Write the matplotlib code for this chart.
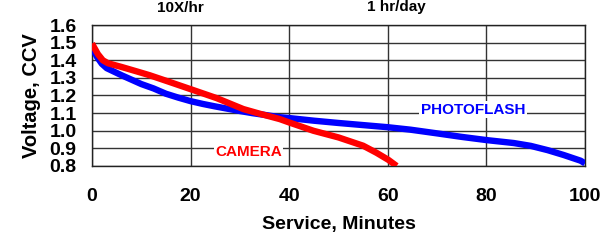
import matplotlib
matplotlib.use("Agg")
import matplotlib.pyplot as plt

plt.rcParams['font.family'] = ['Liberation Sans', 'DejaVu Sans']

# Data
photo_x = [0, 1, 2, 3, 4.5, 6, 8, 10, 12.5, 15, 17.5, 20, 22.5, 25, 27.5, 30, 32.5, 35, 38, 40,
           45, 50, 55, 60, 64.6, 70, 75, 80, 85.6, 89, 92.4, 95.7, 99.1, 100]
photo_y = [1.475, 1.42, 1.38, 1.355, 1.335, 1.315, 1.29, 1.265, 1.24, 1.21, 1.188, 1.168, 1.152,
           1.138, 1.125, 1.112, 1.10, 1.09, 1.077, 1.072, 1.057, 1.044, 1.032, 1.02, 1.006, 0.985,
           0.965, 0.947, 0.93, 0.914, 0.89, 0.862, 0.83, 0.815]

camera_x = [0, 1.2, 2.2, 3.25, 6, 9.3, 11.7, 15.4, 20, 25.3, 30.7, 34.1, 38.1, 40, 44.9, 50, 55,
            57.7, 60.1, 61.8]
camera_y = [1.495, 1.435, 1.40, 1.383, 1.362, 1.335, 1.315, 1.28, 1.236, 1.185, 1.123, 1.096,
            1.066, 1.047, 1.0, 0.962, 0.915, 0.875, 0.835, 0.80]

x_ticks = [0, 20, 40, 60, 80, 100]
y_ticks = [0.8, 0.9, 1.0, 1.1, 1.2, 1.3, 1.4, 1.5, 1.6]

fig = plt.figure(figsize=(6.09, 2.43), dpi=100)
ax = fig.add_axes([0.151, 0.317, 0.8096, 0.580])

ax.plot(photo_x, photo_y, color='#0000FF', lw=4.6, solid_capstyle='butt',
        solid_joinstyle='round', zorder=3)
ax.plot(camera_x, camera_y, color='#FF0000', lw=4.6, solid_capstyle='butt',
        solid_joinstyle='round', zorder=4)

ax.set_xlim(0, 100)
ax.set_ylim(0.8, 1.6)
ax.set_xticks(x_ticks)
ax.set_yticks(y_ticks)
ax.set_xticklabels([str(v) for v in x_ticks], fontsize=14, fontweight='bold')
ax.set_yticklabels([f"{v:.1f}" for v in y_ticks], fontsize=14, fontweight='bold')
ax.tick_params(axis='both', length=0)
ax.tick_params(axis='x', pad=16)
ax.tick_params(axis='y', pad=11)
ax.grid(True, color='#333333', lw=1)
ax.set_axisbelow(True)
for s in ax.spines.values():
    s.set_color('#222222')
    s.set_linewidth(1)

ax.set_xlabel('Service, Minutes', fontsize=14, fontweight='bold', labelpad=8)
ax.set_ylabel('Voltage, CCV', fontsize=14.5, fontweight='bold', labelpad=6)

ax.text(31.7, 0.88, 'CAMERA', color='#FF0000', fontsize=11, fontweight='bold',
        ha='center', va='center', zorder=5,
        bbox=dict(facecolor='white', edgecolor='none', pad=1))
ax.text(77.3, 1.12, 'PHOTOFLASH', color='#0000FF', fontsize=11, fontweight='bold',
        ha='center', va='center', zorder=5,
        bbox=dict(facecolor='white', edgecolor='none', pad=1))

fig.text(180 / 609, 1 - 11.5 / 243, '10X/hr', fontsize=11, fontweight='bold',
         ha='center', va='baseline')
fig.text(396 / 609, 1 - 11.5 / 243, '1 hr/day', fontsize=11, fontweight='bold',
         ha='center', va='baseline')

fig.savefig('out.png', dpi=100)
